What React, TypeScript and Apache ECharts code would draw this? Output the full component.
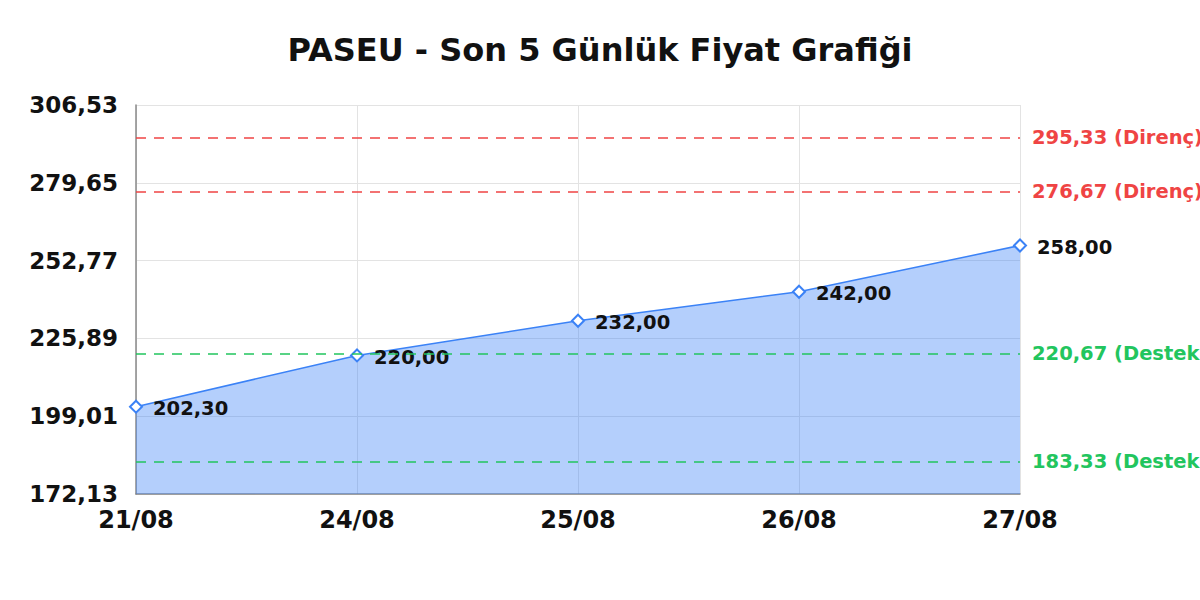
import { useEffect, useRef } from "react";
import * as echarts from "echarts";

const dates = ["21/08", "24/08", "25/08", "26/08", "27/08"];
const prices = [202.3, 220.0, 232.0, 242.0, 258.0];
const yTicks = [172.13, 199.01, 225.89, 252.77, 279.65, 306.53];
const resistance = [295.33, 276.67];
const support = [220.67, 183.33];

const fmt = (v: number) => v.toFixed(2).replace(".", ",");
const FONT = "DejaVu Sans";

export default function App() {
  const ref = useRef<HTMLDivElement | null>(null);

  useEffect(() => {
    document.body.style.margin = "0";
    if (!ref.current) return;
    const chart = echarts.init(ref.current, undefined, { renderer: "svg" });

    // yatay destek / direnç çizgisi, etiketi sağ uçta
    const levelLine = (value: number, kind: string, color: string) => ({
      yAxis: value,
      lineStyle: { color, type: [10, 8], width: 1.5 },
      label: {
        show: true,
        position: "end",
        distance: 12,
        color,
        fontFamily: FONT,
        fontWeight: "bold",
        fontSize: 19.5,
        formatter: `${fmt(value)} (${kind})`,
      },
    });

    chart.setOption({
      animation: false,
      textStyle: { fontFamily: FONT },
      title: {
        text: "PASEU - Son 5 Günlük Fiyat Grafiği",
        left: "center",
        top: 29,
        textStyle: { fontFamily: FONT, fontWeight: "bold", fontSize: 32, color: "#111" },
      },
      grid: { left: 136, right: 180, top: 105, bottom: 106 },
      xAxis: {
        type: "category",
        data: dates,
        boundaryGap: false,
        axisLine: { lineStyle: { color: "#888", width: 1.5 } },
        axisTick: { show: false },
        axisLabel: {
          color: "#111",
          fontFamily: FONT,
          fontWeight: "bold",
          fontSize: 24,
          margin: 14,
        },
        splitLine: { show: true, lineStyle: { color: "#e3e3e3" } },
      },
      yAxis: {
        type: "value",
        min: yTicks[0],
        max: yTicks[yTicks.length - 1],
        axisLine: { show: true, lineStyle: { color: "#888", width: 1.5 } },
        axisTick: { show: false, customValues: yTicks },
        axisLabel: {
          customValues: yTicks,
          color: "#111",
          fontFamily: FONT,
          fontWeight: "bold",
          fontSize: 23,
          margin: 18,
          formatter: (v: number) => fmt(v),
        },
        splitLine: { show: true, lineStyle: { color: "#e3e3e3" } },
      },
      series: [
        {
          type: "line",
          data: prices,
          symbol: "emptyDiamond",
          symbolSize: 12,
          itemStyle: { color: "#3b82f6", borderWidth: 2.5 },
          lineStyle: { color: "#3b82f6", width: 1.5 },
          areaStyle: { color: "#3b82f6", opacity: 0.38 },
          label: {
            show: true,
            position: "right",
            distance: 10,
            offset: [0, 2],
            color: "#111",
            fontFamily: FONT,
            fontWeight: "bold",
            fontSize: 19.5,
            formatter: (p: { value: number }) => fmt(p.value),
          },
          markLine: {
            silent: true,
            symbol: ["none", "none"],
            data: [
              ...resistance.map((v) => levelLine(v, "Direnç", "#ef4444")),
              ...support.map((v) => levelLine(v, "Destek", "#22c55e")),
            ],
          },
        },
      ],
    });

    return () => chart.dispose();
  }, []);

  return <div ref={ref} style={{ width: 1200, height: 600 }} />;
}
